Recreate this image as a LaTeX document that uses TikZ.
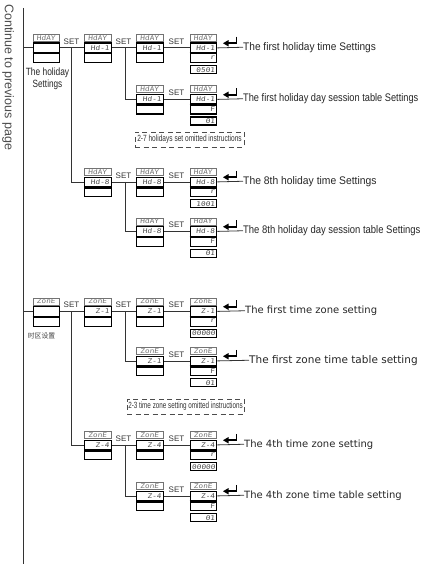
\documentclass[tikz,border=0pt]{standalone}
\usepackage{fontspec}
\setmainfont{Liberation Sans}
\newfontfamily\segfont[FakeStretch=1.2,FakeSlant=0.1]{DejaVu Sans Mono}
\newfontfamily\dvs{DejaVu Sans}
\newfontfamily\cjk{Noto Sans CJK SC}
\tikzset{
  ln/.style={draw=black!80, line width=0.8pt},
  hdr/.style={draw=black!55, line width=0.6pt, anchor=north west, minimum width=26.5pt,
    minimum height=7pt, inner sep=0pt, font=\segfont\fontsize{6.5}{6.5}\selectfont, text=black!55},
  rowbox/.style={draw=black, line width=1.3pt, anchor=north west, minimum width=26.5pt,
    inner sep=0pt, text width=23pt, align=right, font=\segfont\fontsize{6.5}{6.5}\selectfont, text=black!70},
  setl/.style={anchor=base, inner sep=0pt, font=\fontsize{8}{9}\selectfont, text=black!80},
  hlab/.style={anchor=west, inner sep=0pt, font=\fontsize{11}{13}\selectfont, text=black!85},
  zlab/.style={anchor=west, inner sep=0pt, font=\dvs\fontsize{10}{12}\selectfont, text=black!85},
  dbox/.style={draw=black!70, line width=0.7pt, dash pattern=on 5pt off 3.5pt, inner sep=0pt,
    minimum height=15pt, font=\fontsize{9}{10}\selectfont, text=black!80},
  enterkey/.pic={
    \draw[line width=1.9pt] (6.5,-10.5) -- (6.5,-4) -- (-2,-4);
    \fill (-7,-4) -- (-1.5,-7.2) -- (-1.5,-0.8) -- cycle;
  }
}
% name, x, top, header, row2, row3
\newcommand\dunit[6]{%
  \node[hdr] (#1h) at (#2,#3) {#4};
  \node[rowbox, minimum height=9.5pt] (#1) at (#2,#3+8.5) {#5};
  \node[rowbox, minimum height=10pt] (#1b) at (#2,#3+18) {#6};
  \draw[line width=2.4pt] (#1.south west) -- (#1.south east);
}
% name, x, top, header, row2, row3, row4
\newcommand\dunitf[7]{%
  \dunit{#1}{#2}{#3}{#4}{#5}{#6}
  \node[rowbox, minimum height=8pt] (#1c) at (#2,#3+31) {#7};
}
\begin{document}
\begin{tikzpicture}[x=1pt, y=-1pt]
\useasboundingbox (0,0) rectangle (422,564);

% rotated page note
\node[rotate=-90, anchor=west, inner sep=0pt, font=\fontsize{12.5}{14}\selectfont, text=black!70]
  (cont) at (8,4) {Continue to previous page};

% ---------- holiday section ----------
\dunit{u11}{32.5}{34}{HdAY}{}{}
\dunit{u12}{84}{34}{HdAY}{Hd-1}{}
\dunit{u13}{136}{34}{HdAY}{Hd-1}{}
\dunitf{u14}{189.5}{34}{HdAY}{Hd-1}{r}{0501}

\dunit{u23}{136}{85.5}{HdAY}{Hd-1}{}
\dunitf{u24}{189.5}{85.5}{HdAY}{Hd-1}{F}{01}

\dunit{u32}{84}{168}{HdAY}{Hd-8}{}
\dunit{u33}{136}{168}{HdAY}{Hd-8}{}
\dunitf{u34}{189.5}{168}{HdAY}{Hd-8}{r}{1001}

\dunit{u43}{136}{217.5}{HdAY}{Hd-8}{}
\dunitf{u44}{189.5}{217.5}{HdAY}{Hd-8}{F}{01}

% ---------- zone section ----------
\dunit{u51}{32.5}{297.5}{ZonE}{}{}
\dunit{u52}{84}{297.5}{ZonE}{Z-1}{}
\dunit{u53}{136}{297.5}{ZonE}{Z-1}{}
\dunitf{u54}{189.5}{297.5}{ZonE}{Z-1}{r}{00000}

\dunit{u63}{136}{347}{ZonE}{Z-1}{}
\dunitf{u64}{189.5}{347}{ZonE}{Z-1}{F}{01}

\dunit{u72}{84}{431}{ZonE}{Z-4}{}
\dunit{u73}{136}{431}{ZonE}{Z-4}{}
\dunitf{u74}{189.5}{431}{ZonE}{Z-4}{r}{00000}

\dunit{u83}{136}{482}{ZonE}{Z-4}{}
\dunitf{u84}{189.5}{482}{ZonE}{Z-4}{F}{01}

% left labels
\node[align=center, inner sep=0pt, font=\fontsize{10.5}{11.6}\selectfont, text=black!85] (hl) at (47.5,78.5)
  {\scalebox{0.8}[1]{The holiday}\\\scalebox{0.78}[1]{Settings}};
\node[inner sep=0pt, font=\cjk\fontsize{6.8}{8}\selectfont, text=black!75] (zl) at (41.5,336) {时区设置};

% SET labels
\foreach \xx/\yy in {71.5/47.25, 123.5/47.25, 176.5/47.25, 176.5/98.75,
                     123.5/181.25, 176.5/181.25, 176.5/230.75,
                     71.5/310.75, 123.5/310.75, 176.5/310.75, 176.5/360.25,
                     123.5/444.25, 176.5/444.25, 176.5/495.25}
  \node[setl] at (\xx,\yy-2.8) {SET};

% result labels
\node[hlab] (t1) at (243,47.25) {\scalebox{0.92}[1]{The first holiday time Settings}};
\node[hlab] (t2) at (243,98.75) {\scalebox{0.84}[1]{The first holiday day session table Settings}};
\node[hlab] (t3) at (243,181.25) {\scalebox{0.94}[1]{The 8th holiday time Settings}};
\node[hlab] (t4) at (243,230.75) {\scalebox{0.86}[1]{The 8th holiday day session table Settings}};
\node[zlab] (t5) at (245,310.75) {The first time zone setting};
\node[zlab, font=\dvs\fontsize{10.5}{12}\selectfont] (t6) at (249,360.25) {The first zone time table setting};
\node[zlab] (t7) at (244,444.25) {The 4th time zone setting};
\node[zlab] (t8) at (244,495.25) {The 4th zone time table setting};

% omitted-instruction boxes
\node[dbox, minimum width=109pt] (d1) at (189.5,139.5) {\scalebox{0.73}[1]{2-7 holidays set omitted instructions}};
\node[dbox, minimum width=117pt] (d2) at (185.5,406.5) {\scalebox{0.7}[1]{2-3 time zone setting omitted instructions}};

% enter keys
\foreach \yy in {47.25, 98.75, 181.25, 230.75, 310.75, 360.25, 444.25, 495.25}
  \pic at (230,\yy) {enterkey};

% connectors
\coordinate (vtop) at (23,8);
\coordinate (vbot) at (23,564);
\coordinate (b1) at (71.7,0);
\coordinate (b2) at (125,0);
\draw[ln] (vtop) -- (vbot);
\draw[ln] (vtop |- u11.west) -- (u11.west);
\draw[ln] (vtop |- u51.west) -- (u51.west);

\draw[ln] (u11.east) -- (u12.west);
\draw[ln] (u12.east) -- (u13.west);
\draw[ln] (u13.east) -- (u14.west);
\draw[ln] (u23.east) -- (u24.west);
\draw[ln] (u32.east) -- (u33.west);
\draw[ln] (u33.east) -- (u34.west);
\draw[ln] (u43.east) -- (u44.west);
\draw[ln] (u51.east) -- (u52.west);
\draw[ln] (u52.east) -- (u53.west);
\draw[ln] (u53.east) -- (u54.west);
\draw[ln] (u63.east) -- (u64.west);
\draw[ln] (u72.east) -- (u73.west);
\draw[ln] (u73.east) -- (u74.west);
\draw[ln] (u83.east) -- (u84.west);

\draw[ln] (b1 |- u11.east) |- (u32.west);
\draw[ln] (b2 |- u12.east) |- (u23.west);
\draw[ln] (b2 |- u32.east) |- (u43.west);
\draw[ln] (b1 |- u51.east) |- (u72.west);
\draw[ln] (b2 |- u52.east) |- (u63.west);
\draw[ln] (b2 |- u72.east) |- (u83.west);

\draw[ln] (u14.east) -- (t1.west);
\draw[ln] (u24.east) -- (t2.west);
\draw[ln] (u34.east) -- (t3.west);
\draw[ln] (u44.east) -- (t4.west);
\draw[ln] (u54.east) -- (t5.west);
\draw[ln] (u64.east) -- (t6.west);
\draw[ln] (u74.east) -- (t7.west);
\draw[ln] (u84.east) -- (t8.west);
\end{tikzpicture}
\end{document}
